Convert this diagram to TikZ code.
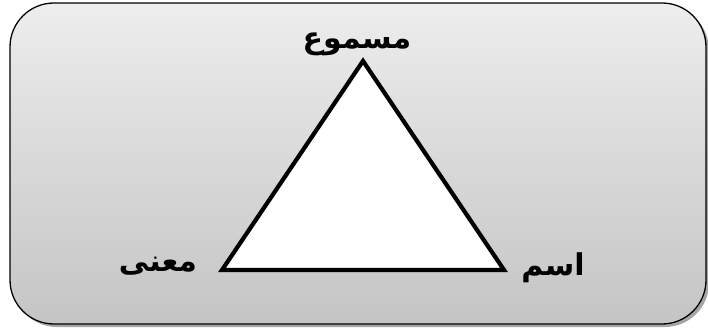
\documentclass[tikz,border=0pt]{standalone}
\usepackage{fontspec}
\TeXXeTstate=1
\newfontfamily\arabicfont[Script=Arabic]{DejaVu Sans}
\begin{document}
\begin{tikzpicture}[x=1pt,y=-1pt,
  panel/.style={rounded corners=44pt, line width=1.3pt, draw=black, top color=gray!14, bottom color=gray!46},
  panelshadow/.style={rounded corners=44pt, fill=gray!70},
  tri/.style={draw=black, fill=white, line width=4.2pt, line join=miter},
  lbl/.style={font=\arabicfont\bfseries\fontsize{30}{34}\selectfont, inner sep=0pt}]
\useasboundingbox (0,0) rectangle (708,331);
\fill[panelshadow] (13,6) rectangle (709,327);
\path[panel] (10,3) rectangle (706,324);
\coordinate (top) at (363,61);
\coordinate (left) at (222,270);
\coordinate (right) at (504,270);
\draw[tri] (top) -- (right) -- (left) -- cycle;
\node[lbl] (masmu) at (357,44) {\beginR مسموع\endR};
\node[lbl] (mana) at (158,266) {\beginR معنى\endR};
\node[lbl] (ism) at (553,268) {\beginR اسم\endR};
\end{tikzpicture}
\end{document}
